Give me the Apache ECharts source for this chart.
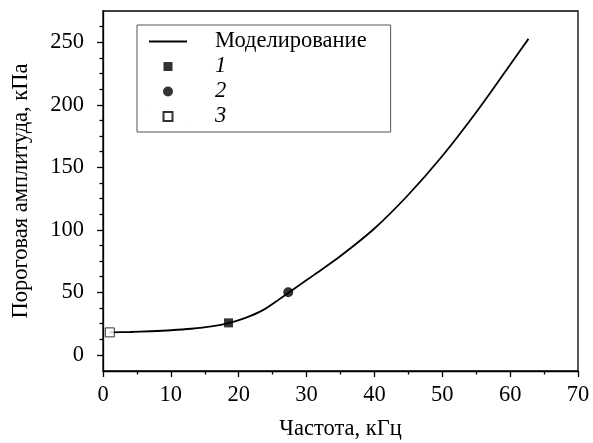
<!DOCTYPE html>
<html>
<head>
<meta charset="utf-8">
<script src="https://cdn.jsdelivr.net/npm/echarts@6/dist/echarts.min.js"></script>
<style>html,body{margin:0;padding:0;background:#fff}#c{width:593px;height:443px}</style>
</head>
<body>
<div id="c"></div>
<script>
// Simulation curve (frequency, kHz -> threshold amplitude, kPa)
const modelX = [1, 4, 7, 10, 13, 16, 18.5, 21, 23.5, 26, 28.5, 31, 35, 40, 45, 50, 55, 60, 62.7];
const modelY = [17.9, 18.2, 18.8, 19.6, 20.8, 22.7, 25.3, 29.5, 35.5, 44.5, 54, 63.5, 79, 101, 128, 159, 194, 232, 252.7];
// Experimental points
const set1 = [[18.5, 25.5]];
const set2 = [[27.3, 50]];
const set3 = [[1, 17.9]];
// Axis ticks
const xTicks = [0, 10, 20, 30, 40, 50, 60, 70];
const yMajor = [0, 50, 100, 150, 200, 250];
const yMinor = [12.5, 25, 37.5, 62.5, 75, 87.5, 112.5, 125, 137.5, 162.5, 175, 187.5, 212.5, 225, 237.5, 262.5];

const FONT = 'Liberation Serif';
const FS = 22.5;
// legend icons: bounding box spans the whole 38x10 icon area so the square is not stretched
const SQUARE_ICON = 'path://M0,0h0.01M37.99,10h0.01M14.5,0.5h9v9h-9z';
const LINE_ICON = 'path://M0,0h38v1.8h-38z';
const chart = echarts.init(document.getElementById('c'), null, {renderer: 'canvas'});
const modelData = modelX.map((x, i) => [x, modelY[i]]);

chart.setOption({
  animation: false,
  backgroundColor: '#fff',
  grid: {left: 103, right: 15, top: 11, bottom: 72, containLabel: false, outerBoundsMode: 'none',
         show: true, borderColor: '#000', borderWidth: 1.3, backgroundColor: 'transparent'},
  legend: {
    orient: 'vertical', left: 137, top: 25,
    borderColor: '#555', borderWidth: 1,
    padding: [5, 0, 4, 11],
    itemWidth: 38, itemHeight: 10, itemGap: 2,
    textStyle: {fontFamily: FONT, fontSize: FS, color: '#000', lineHeight: 21, padding: [0, 24, 0, 23]},
    data: [
      {name: 'Моделирование', icon: LINE_ICON},
      {name: '1', icon: SQUARE_ICON, textStyle: {fontStyle: 'italic'}},
      {name: '2', icon: 'circle', textStyle: {fontStyle: 'italic'}},
      {name: '3', icon: SQUARE_ICON, textStyle: {fontStyle: 'italic'}}
    ]
  },
  xAxis: {
    type: 'value', min: 0, max: 70, interval: 10,
    name: 'Частота, кГц', nameLocation: 'middle', nameGap: 47,
    nameTextStyle: {fontFamily: FONT, fontSize: FS, color: '#000'},
    axisLine: {onZero: false, lineStyle: {color: '#000', width: 1.3}},
    axisTick: {show: true, length: 6, lineStyle: {color: '#000', width: 1.3}},
    minorTick: {show: true, splitNumber: 2, length: 3.5, lineStyle: {color: '#000', width: 1.3}},
    axisLabel: {fontFamily: FONT, fontSize: FS, color: '#000', margin: 13},
    splitLine: {show: false}
  },
  yAxis: [{
    type: 'value', min: -13, max: 275,
    name: 'Пороговая амплитуда, кПа', nameLocation: 'middle', nameGap: 70,
    nameTextStyle: {fontFamily: FONT, fontSize: FS, color: '#000'},
    axisLine: {show: true, onZero: false, lineStyle: {color: '#000', width: 1.3}},
    axisTick: {show: true, length: 6, customValues: yMajor, lineStyle: {color: '#000', width: 1.3}},
    axisLabel: {fontFamily: FONT, fontSize: FS, color: '#000', margin: 19, customValues: yMajor},
    splitLine: {show: false}
  }, {
    type: 'value', min: -13, max: 275, position: 'left',
    axisLine: {show: false, onZero: false},
    axisTick: {show: true, length: 3.5, customValues: yMinor, lineStyle: {color: '#000', width: 1.3}},
    axisLabel: {show: false},
    splitLine: {show: false}
  }],
  series: [
    {name: 'Моделирование', type: 'line', data: modelData, symbol: 'none', smooth: 0.3,
     lineStyle: {color: '#000', width: 1.8}, itemStyle: {color: '#000'}, z: 2},
    {name: '1', type: 'scatter', data: set1, symbol: 'rect', symbolSize: 9,
     itemStyle: {color: '#000'}, z: 3},
    {name: '2', type: 'scatter', data: set2, symbol: 'circle', symbolSize: 10,
     itemStyle: {color: '#000'}, z: 3},
    {name: '3', type: 'scatter', data: set3, symbol: 'rect', symbolSize: 9,
     itemStyle: {color: '#fff', borderColor: '#000', borderWidth: 1}, z: 3}
  ]
});
</script>
</body>
</html>
